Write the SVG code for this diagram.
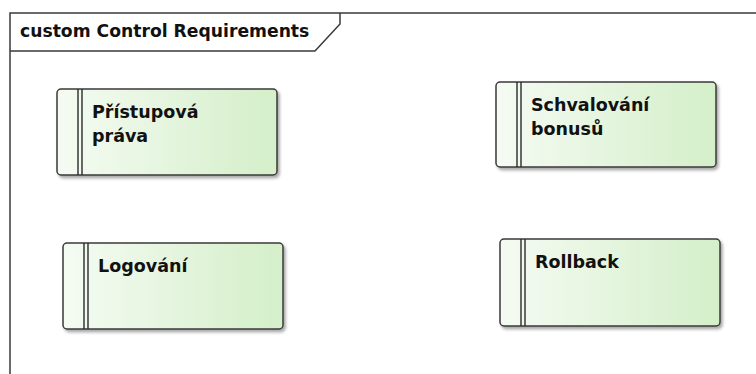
<svg xmlns="http://www.w3.org/2000/svg" width="756" height="374" viewBox="0 0 756 374">
  <style>
    .frame { fill: none; stroke: #3a3a3a; stroke-width: 1.5; }
    .box { fill: url(#reqFill); stroke: #3a3a3a; stroke-width: 1.5; filter: url(#shadow); }
    .bar { stroke: #2a2a2a; stroke-width: 1.4; }
    .title { font-family: "DejaVu Sans", Verdana, sans-serif; font-weight: bold; font-size: 17.2px; fill: #111; }
    .label { font-family: "DejaVu Sans", Verdana, sans-serif; font-weight: bold; font-size: 17.5px; fill: #111; }
  </style>
  <defs>
    <linearGradient id="reqFill" x1="0" y1="0" x2="1" y2="0">
      <stop offset="0" stop-color="#f5fbf3"/>
      <stop offset="1" stop-color="#d4efc9"/>
    </linearGradient>
    <filter id="shadow" x="-10%" y="-10%" width="125%" height="130%">
      <feDropShadow dx="2" dy="2.5" stdDeviation="1.6" flood-color="#000" flood-opacity="0.35"/>
    </filter>
  </defs>

  <rect width="756" height="374" fill="#ffffff"/>

  <!-- package frame with name tab -->
  <g id="frame">
    <path class="frame" d="M10,374 V13 H756"/>
    <path class="frame" d="M10,51 H315 L340,24 V13"/>
    <text class="title" x="20" y="37">custom Control Requirements</text>
  </g>

  <g id="req-pristupova-prava">
    <rect class="box" x="57" y="89" width="220" height="86" rx="4"/>
    <line class="bar" x1="78" y1="89" x2="78" y2="175"/>
    <line class="bar" x1="82" y1="89" x2="82" y2="175"/>
    <text class="label" x="92" y="118">Přístupová</text>
    <text class="label" x="92" y="142">práva</text>
  </g>

  <g id="req-schvalovani-bonusu">
    <rect class="box" x="496" y="82" width="220" height="85" rx="4"/>
    <line class="bar" x1="517" y1="82" x2="517" y2="167"/>
    <line class="bar" x1="521" y1="82" x2="521" y2="167"/>
    <text class="label" x="531" y="111">Schvalování</text>
    <text class="label" x="531" y="135">bonusů</text>
  </g>

  <g id="req-logovani">
    <rect class="box" x="63" y="243" width="220" height="86" rx="4"/>
    <line class="bar" x1="84" y1="243" x2="84" y2="329"/>
    <line class="bar" x1="88" y1="243" x2="88" y2="329"/>
    <text class="label" x="98" y="272">Logování</text>
  </g>

  <g id="req-rollback">
    <rect class="box" x="500" y="239" width="220" height="87" rx="4"/>
    <line class="bar" x1="521" y1="239" x2="521" y2="326"/>
    <line class="bar" x1="525" y1="239" x2="525" y2="326"/>
    <text class="label" x="535" y="268">Rollback</text>
  </g>

  <g id="connectors"></g>
</svg>
